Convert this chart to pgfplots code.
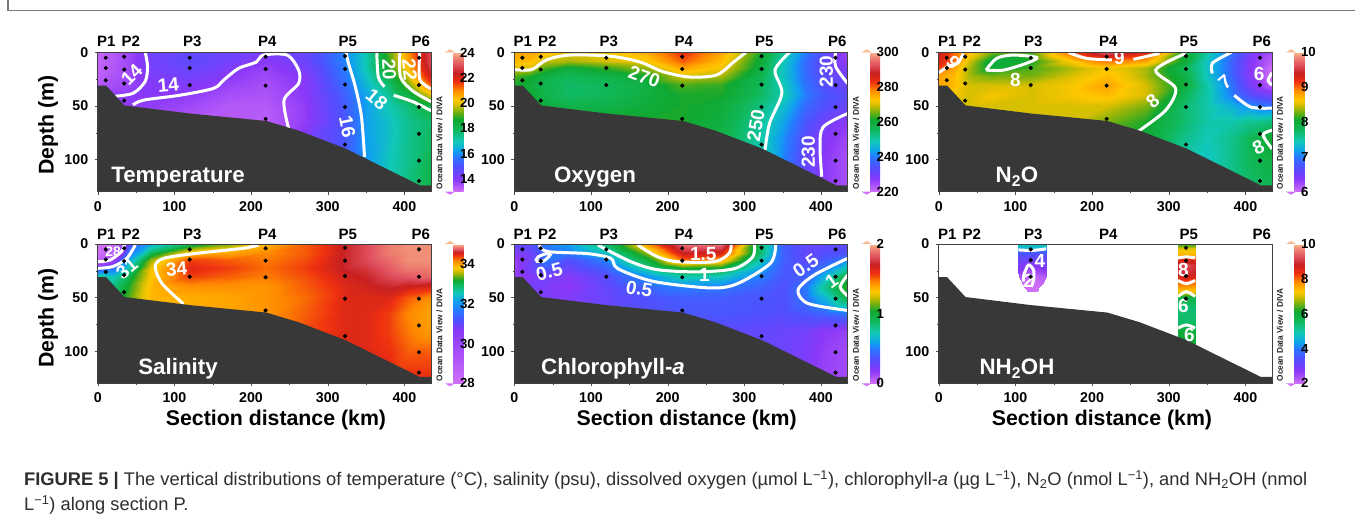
\documentclass[border=0pt]{standalone}
\usepackage{pgfplots}
\pgfplotsset{compat=1.18}
\usepackage{fontspec}
\setmainfont{Liberation Sans}
\pgfplotsset{
colormap={odv}{rgb255(0pt)=(208,112,248) rgb255(9pt)=(138,56,248) rgb255(18pt)=(80,80,255) rgb255(25pt)=(40,120,255) rgb255(29pt)=(16,160,240) rgb255(36pt)=(16,200,184) rgb255(45pt)=(16,184,88) rgb255(52pt)=(16,168,48) rgb255(57pt)=(112,176,16) rgb255(63pt)=(224,192,0) rgb255(66pt)=(255,200,0) rgb255(73pt)=(255,136,0) rgb255(79pt)=(238,48,16) rgb255(85pt)=(200,32,32) rgb255(91pt)=(224,80,96) rgb255(96pt)=(238,128,112) rgb255(100pt)=(248,184,144)},
colormap={odvsal}{rgb255(0pt)=(208,112,248) rgb255(38pt)=(138,56,248) rgb255(45pt)=(80,80,255) rgb255(52pt)=(40,120,255) rgb255(59pt)=(16,160,240) rgb255(65pt)=(16,200,184) rgb255(71pt)=(16,184,88) rgb255(74pt)=(16,168,48) rgb255(77pt)=(112,176,16) rgb255(81pt)=(224,192,0) rgb255(83pt)=(255,200,0) rgb255(88pt)=(255,136,0) rgb255(92pt)=(238,48,16) rgb255(94pt)=(200,32,32) rgb255(96pt)=(224,80,96) rgb255(98pt)=(238,128,112) rgb255(100pt)=(248,184,144)},
sec/.style={scale only axis,width=333.3pt,height=139.3pt,xmin=0,xmax=434.7,ymin=0,ymax=130,y dir=reverse,axis on top,
 xtick={0,100,200,300,400},minor x tick num=1,ytick={0,50,100},minor y tick num=1,
 xtick pos=lower,ytick pos=left,xticklabel pos=lower,tick align=outside,major tick length=3pt,minor tick length=1.5pt,
 tick style={color=black!70},axis line style={color=black!75,line width=0.7pt},
 tick label style={font=\bfseries\fontsize{14.2}{15}\selectfont,/pgf/number format/assume math mode=true},
 xticklabel style={yshift=-3pt},yticklabel style={xshift=-3pt},anchor=south west},
cb/.style={colorbar,colorbar style={at={(parent axis.north east)},anchor=north west,xshift=14pt,width=10pt,height=139.3pt,y dir=normal,
 ytick={#1},major tick length=0pt,minor tick length=0pt,axis line style={draw=none},ytick pos=right,yticklabel pos=right,
 yticklabel style={font=\bfseries\fontsize{13.2}{15}\selectfont,/pgf/number format/assume math mode=true,xshift=-7pt}}},
cl/.style={white,line width=3pt,smooth,no marks,forget plot}
}
\newcommand{\seabed}{\addplot[fill=black!78,draw=none,forget plot] coordinates {(0,31)(11,31)(35,49.5)(120,57)(220,64)(262,73)(323,89.7)(420,124)(434.7,124)(434.7,130)(0,130)} -- cycle;}
\newcommand{\stations}{\addplot[only marks,mark=*,mark size=1.9pt,black,forget plot] coordinates {(10.5,5)(10.5,14.5)(10.5,26)(34.5,4)(34.5,16)(34.5,29)(34.5,45)(120,5)(120,14.5)(120,30.5)(219,4)(219,15.5)(219,31)(219,62)(322.5,3.5)(322.5,15.5)(322.5,30)(322.5,51)(322.5,86)(419,5)(419,30.5)(419,51)(419,76)(419,101)(419,120)};}
\newcommand{\lab}[4]{\node[text=white,inner sep=0pt,rotate=#4,font=\bfseries\fontsize{19}{20}\selectfont] at (axis cs:#1,#2) {#3};}
\newcommand{\tops}[2]{\begin{scope}[font=\bfseries\fontsize{15}{17}\selectfont]
\node at (#1+8.5,#2) {P1};\node at (#1+33,#2) {P2};\node at (#1+94.5,#2) {P3};\node at (#1+169.5,#2) {P4};\node at (#1+250,#2) {P5};\node at (#1+323,#2) {P6};\end{scope}}
\newcommand{\odvt}[2]{\node[rotate=90,font=\fontsize{8.3}{9}\selectfont\bfseries,text=black!85] at (#1,#2) {Ocean Data View / DIVA};}
\newcommand{\tips}[3]{\fill[fill={rgb,255:red,248;green,184;blue,144}] (#1,#2) -- (#1+5,#2+3) -- (#1+10,#2) -- cycle;
\fill[fill={rgb,255:red,208;green,112;blue,248}] (#1,#3) -- (#1+5,#3-3) -- (#1+10,#3) -- cycle;}
\newcommand{\ptitle}[3]{\node[text=white,font=\bfseries\fontsize{22.3}{24}\selectfont] at (#1,#2) {#3};}
\begin{document}
\begin{tikzpicture}[x=1pt,y=1pt]
\useasboundingbox (0,0) rectangle (1355,523);
\fill[white] (0,0) rectangle (1355,523);
\draw[black!52,line width=1.6pt] (8,523) -- (8,512.5) -- (1355,512.5);

% ---------- Temperature
\begin{axis}[sec,at={(97.7pt,331.3pt)},colormap name=odv,point meta min=13,point meta max=24,cb={14,16,18,20,22,24}]
\addplot[surf,shader=interp,mesh/cols=13,point meta=explicit,forget plot] coordinates {
(0,0)[13.2](20,0)[13.4](40,0)[13.7](70,0)[14.4](120,0)[14.7](170,0)[14.5](220,0)[14.2](270,0)[14.6](322,0)[15.9](350,0)[17.0](380,0)[19.1](405,0)[20.9](434.7,0)[23.0]
(0,8)[13.2](20,8)[13.4](40,8)[13.7](70,8)[14.4](120,8)[14.7](170,8)[14.4](220,8)[14.0](270,8)[14.5](322,8)[15.9](350,8)[17.0](380,8)[19.0](405,8)[20.7](434.7,8)[23.0]
(0,15)[13.2](20,15)[13.4](40,15)[13.7](70,15)[14.3](120,15)[14.6](170,15)[14.2](220,15)[13.8](270,15)[14.3](322,15)[15.8](350,15)[17.0](380,15)[18.8](405,15)[20.4](434.7,15)[22.8]
(0,22)[13.3](20,22)[13.5](40,22)[13.7](70,22)[14.2](120,22)[14.4](170,22)[14.0](220,22)[13.7](270,22)[14.1](322,22)[15.7](350,22)[16.8](380,22)[18.3](405,22)[19.9](434.7,22)[22.3]
(0,30)[13.4](20,30)[13.6](40,30)[13.7](70,30)[14.1](120,30)[14.1](170,30)[13.8](220,30)[13.6](270,30)[14.0](322,30)[15.5](350,30)[16.6](380,30)[17.7](405,30)[19.2](434.7,30)[21.4]
(0,40)[13.6](20,40)[13.9](40,40)[14.0](70,40)[14.0](120,40)[13.9](170,40)[13.6](220,40)[13.5](270,40)[14.0](322,40)[15.3](350,40)[16.3](380,40)[17.3](405,40)[18.3](434.7,40)[20.0]
(0,50)[13.7](20,50)[13.8](40,50)[13.9](70,50)[13.9](120,50)[13.7](170,50)[13.4](220,50)[13.4](270,50)[13.9](322,50)[15.2](350,50)[16.2](380,50)[17.0](405,50)[17.6](434.7,50)[18.3]
(0,65)[14.0](20,65)[14.0](40,65)[13.8](70,65)[13.6](120,65)[13.4](170,65)[13.4](220,65)[13.3](270,65)[13.9](322,65)[15.1](350,65)[16.2](380,65)[16.8](405,65)[17.4](434.7,65)[17.8]
(0,80)[14.0](20,80)[14.0](40,80)[13.8](70,80)[13.6](120,80)[13.4](170,80)[13.4](220,80)[13.4](270,80)[14.2](322,80)[15.1](350,80)[16.2](380,80)[16.8](405,80)[17.4](434.7,80)[17.9]
(0,100)[14.2](20,100)[14.2](40,100)[14.0](70,100)[13.8](120,100)[13.6](170,100)[13.6](220,100)[13.7](270,100)[14.5](322,100)[15.2](350,100)[16.1](380,100)[16.9](405,100)[17.4](434.7,100)[18.1]
(0,130)[14.4](20,130)[14.4](40,130)[14.2](70,130)[14.0](120,130)[13.8](170,130)[13.8](220,130)[14.0](270,130)[14.8](322,130)[15.4](350,130)[16.2](380,130)[17.0](405,130)[17.6](434.7,130)[18.2]
};
\addplot[cl] coordinates {(62,0)(65,13)(62,27)(46.5,38)(22.6,41)(15,42)};
\addplot[cl] coordinates {(46,49)(60,44.5)(107,40)(151,33.6)(164,26)(183.5,15)(207,9)(216,2.5)(247,2.5)(262,16.5)(262,29)(243,44.5)(249,71)};
\addplot[cl] coordinates {(324,0)(327,10)(336,32)(344,60)(348,97.5)};
\addplot[cl] coordinates {(364,0)(366,23)(374,32)};
\addplot[cl] coordinates {(386,40)(411,46)(435,54.5)};
\addplot[cl] coordinates {(394,0)(395,23)(411,36)(435,46)};
\addplot[cl] coordinates {(420,0)(420,25)(434.7,34)};
\seabed\stations
\lab{44.3}{21}{14}{45}\lab{92}{30.5}{14}{5}\lab{325.6}{69.5}{16}{-78}\lab{364}{43.6}{18}{-40}\lab{380}{16}{20}{-88}\lab{407}{16}{22}{-85}
\end{axis}

% ---------- Oxygen
\begin{axis}[sec,at={(514.3pt,331.3pt)},colormap name=odv,point meta min=220,point meta max=300,cb={220,240,260,280,300}]
\addplot[surf,shader=interp,mesh/cols=13,point meta=explicit,forget plot] coordinates {
(0,0)[276](20,0)[276](40,0)[274](70,0)[271](120,0)[272](170,0)[275](220,0)[284](270,0)[276](322,0)[262](350,0)[251](380,0)[240](405,0)[233](434.7,0)[225]
(0,8)[274](20,8)[274](40,8)[269](70,8)[268](120,8)[270](170,8)[272](220,8)[281](270,8)[274](322,8)[260](350,8)[249](380,8)[238](405,8)[232](434.7,8)[226]
(0,15)[270](20,15)[270](40,15)[264](70,15)[260](120,15)[263](170,15)[267](220,15)[276](270,15)[272](322,15)[259](350,15)[248](380,15)[238](405,15)[232](434.7,15)[228]
(0,22)[264](20,22)[262](40,22)[259](70,22)[256](120,22)[258](170,22)[261](220,22)[270](270,22)[268](322,22)[257](350,22)[248](380,22)[238](405,22)[233](434.7,22)[230]
(0,30)[262](20,30)[260](40,30)[257](70,30)[255](120,30)[256](170,30)[259](220,30)[264](270,30)[263](322,30)[256](350,30)[249](380,30)[239](405,30)[234](434.7,30)[230.5]
(0,40)[262](20,40)[261](40,40)[258](70,40)[255](120,40)[256](170,40)[259](220,40)[262](270,40)[262](322,40)[255](350,40)[250](380,40)[240](405,40)[235](434.7,40)[233]
(0,50)[262](20,50)[262](40,50)[260](70,50)[258](120,50)[258](170,50)[260](220,50)[262](270,50)[260](322,50)[253](350,50)[247](380,50)[238](405,50)[234](434.7,50)[231]
(0,65)[262](20,65)[262](40,65)[262](70,65)[262](120,65)[262](170,65)[262](220,65)[262](270,65)[259](322,65)[251](350,65)[244](380,65)[235](405,65)[230](434.7,65)[227]
(0,80)[262](20,80)[262](40,80)[262](70,80)[262](120,80)[262](170,80)[262](220,80)[262](270,80)[258](322,80)[250](350,80)[242](380,80)[233](405,80)[228](434.7,80)[225]
(0,100)[250](20,100)[250](40,100)[250](70,100)[250](120,100)[250](170,100)[250](220,100)[255](270,100)[255](322,100)[250](350,100)[241](380,100)[232](405,100)[227](434.7,100)[224]
(0,130)[250](20,130)[250](40,130)[250](70,130)[250](120,130)[250](170,130)[250](220,130)[255](270,130)[255](322,130)[250](350,130)[241](380,130)[232](405,130)[227](434.7,130)[224]
};
\addplot[cl] coordinates {(0,16)(22.6,16)(42,7)(72,2.5)(125,3.5)(164,9)(194,18)(229,23)(264,21)(286,9)(302,0)};
\addplot[cl] coordinates {(359,0)(340,16.5)(349,38)(333,66)(327,91)};
\addplot[cl] coordinates {(419,0)(419,13)(434.7,29)};
\addplot[cl] coordinates {(434.7,57)(403,69.5)(398.7,88)(401,116)};
\seabed\stations
\lab{169.6}{22.7}{270}{-20}\lab{315}{68}{250}{80}\lab{407}{18}{230}{90}\lab{383.5}{93}{230}{90}
\end{axis}

% ---------- N2O
\begin{axis}[sec,at={(938.7pt,331.3pt)},colormap name=odv,point meta min=6,point meta max=10,cb={6,7,8,9,10}]
\addplot[surf,shader=interp,mesh/cols=13,point meta=explicit,forget plot] coordinates {
(0,0)[9.4](20,0)[9.0](40,0)[8.7](70,0)[8.3](120,0)[8.2](170,0)[9.0](220,0)[9.7](270,0)[9.3](322,0)[8.0](350,0)[7.5](380,0)[7.0](405,0)[6.5](434.7,0)[6.2]
(0,8)[9.3](20,8)[9.0](40,8)[8.5](70,8)[7.95](120,8)[8.1](170,8)[8.6](220,8)[9.0](270,8)[8.8](322,8)[8.0](350,8)[7.4](380,8)[6.9](405,8)[6.4](434.7,8)[6.1]
(0,15)[9.1](20,15)[8.8](40,15)[8.4](70,15)[8.0](120,15)[8.2](170,15)[8.4](220,15)[8.6](270,15)[8.4](322,15)[7.8](350,15)[7.4](380,15)[6.9](405,15)[6.4](434.7,15)[6.0]
(0,22)[8.8](20,22)[8.7](40,22)[8.4](70,22)[8.3](120,22)[8.3](170,22)[8.5](220,22)[8.7](270,22)[8.4](322,22)[7.9](350,22)[7.4](380,22)[6.9](405,22)[6.4](434.7,22)[5.9]
(0,30)[8.8](20,30)[8.7](40,30)[8.5](70,30)[8.5](120,30)[8.5](170,30)[8.6](220,30)[8.8](270,30)[8.5](322,30)[7.95](350,30)[7.5](380,30)[7.0](405,30)[6.5](434.7,30)[6.1]
(0,40)[8.7](20,40)[8.6](40,40)[8.5](70,40)[8.6](120,40)[8.5](170,40)[8.6](220,40)[8.7](270,40)[8.5](322,40)[7.8](350,40)[7.5](380,40)[7.05](405,40)[6.7](434.7,40)[6.5]
(0,50)[8.6](20,50)[8.5](40,50)[8.5](70,50)[8.5](120,50)[8.5](170,50)[8.5](220,50)[8.5](270,50)[8.3](322,50)[7.7](350,50)[7.5](380,50)[7.3](405,50)[7.1](434.7,50)[6.95]
(0,65)[8.5](20,65)[8.5](40,65)[8.5](70,65)[8.5](120,65)[8.5](170,65)[8.5](220,65)[8.3](270,65)[8.1](322,65)[7.7](350,65)[7.5](380,65)[7.5](405,65)[7.6](434.7,65)[7.7]
(0,80)[8.2](20,80)[8.2](40,80)[8.2](70,80)[8.2](120,80)[8.2](170,80)[8.2](220,80)[8.2](270,80)[8.0](322,80)[7.6](350,80)[7.45](380,80)[7.6](405,80)[7.8](434.7,80)[8.1]
(0,100)[7.9](20,100)[7.9](40,100)[7.9](70,100)[7.9](120,100)[7.9](170,100)[7.9](220,100)[7.9](270,100)[7.8](322,100)[7.5](350,100)[7.4](380,100)[7.6](405,100)[7.8](434.7,100)[7.95]
(0,130)[7.7](20,130)[7.7](40,130)[7.7](70,130)[7.7](120,130)[7.7](170,130)[7.7](220,130)[7.7](270,130)[7.6](322,130)[7.5](350,130)[7.5](380,130)[7.6](405,130)[7.7](434.7,130)[7.8]
};
\addplot[cl] coordinates {(0,19)(12.6,13)(25,10)(32,1)};
\addplot[cl] coordinates {(61.7,16.5)(75.6,5.6)(97,2.5)(128,4.7)(115,10)(84.7,16.5)(61.7,16.5)};
\addplot[cl] coordinates {(169,0)(193,5.6)(226,7)};
\addplot[cl] coordinates {(254,6.5)(288,1)};
\addplot[cl] coordinates {(322,1)(283,16.5)(309,33.6)(296,54)(259.5,74)};
\addplot[cl] coordinates {(381.5,0)(357,10)(357,19.6)};
\addplot[cl] coordinates {(385.5,40)(407,51)(434.7,52)};
\addplot[cl] coordinates {(434.7,19)(429.6,26)(434.7,30.5)};
\addplot[cl] coordinates {(434.7,72.6)(423,77)(434.7,90)};
\seabed\stations
\lab{19}{9.7}{9}{-45}\lab{100}{26}{8}{0}\lab{235.6}{5.6}{9}{0}\lab{279}{45.5}{8}{40}\lab{373.5}{27.4}{7}{40}\lab{418}{20}{6}{0}\lab{417}{88.8}{8}{25}
\end{axis}

% ---------- Salinity
\begin{axis}[sec,at={(97.7pt,139.7pt)},colormap name=odvsal,point meta min=28,point meta max=35,cb={28,30,32,34}]
\addplot[surf,shader=interp,mesh/cols=13,point meta=explicit,forget plot] coordinates {
(0,0)[27.8](20,0)[28.3](40,0)[31.0](70,0)[32.3](120,0)[33.0](170,0)[33.4](220,0)[33.9](270,0)[34.3](322,0)[34.6](350,0)[34.7](380,0)[34.85](405,0)[34.9](434.7,0)[34.9]
(0,8)[27.9](20,8)[29.0](40,8)[31.6](70,8)[33.0](120,8)[33.9](170,8)[34.0](220,8)[34.15](270,8)[34.3](322,8)[34.6](350,8)[34.7](380,8)[34.85](405,8)[34.9](434.7,8)[34.9]
(0,15)[28.6](20,15)[30.2](40,15)[32.2](70,15)[33.5](120,15)[34.4](170,15)[34.3](220,15)[34.2](270,15)[34.35](322,15)[34.6](350,15)[34.7](380,15)[34.8](405,15)[34.9](434.7,15)[34.9]
(0,22)[31.0](20,22)[31.5](40,22)[32.6](70,22)[33.75](120,22)[34.5](170,22)[34.4](220,22)[34.25](270,22)[34.4](322,22)[34.6](350,22)[34.65](380,22)[34.75](405,22)[34.85](434.7,22)[34.85]
(0,30)[32.7](20,30)[32.5](40,30)[33.0](70,30)[33.8](120,30)[34.4](170,30)[34.3](220,30)[34.2](270,30)[34.35](322,30)[34.55](350,30)[34.6](380,30)[34.7](405,30)[34.75](434.7,30)[34.8]
(0,40)[33.0](20,40)[32.8](40,40)[33.2](70,40)[33.9](120,40)[34.1](170,40)[34.1](220,40)[34.1](270,40)[34.3](322,40)[34.5](350,40)[34.55](380,40)[34.6](405,40)[34.55](434.7,40)[34.5]
(0,50)[33.2](20,50)[33.0](40,50)[33.3](70,50)[33.9](120,50)[33.95](170,50)[34.0](220,50)[34.1](270,50)[34.25](322,50)[34.5](350,50)[34.5](380,50)[34.5](405,50)[34.3](434.7,50)[34.1]
(0,65)[33.3](20,65)[33.3](40,65)[33.4](70,65)[33.9](120,65)[34.0](170,65)[34.0](220,65)[34.1](270,65)[34.3](322,65)[34.5](350,65)[34.5](380,65)[34.4](405,65)[34.15](434.7,65)[34.0]
(0,80)[33.3](20,80)[33.3](40,80)[33.4](70,80)[33.9](120,80)[34.0](170,80)[34.0](220,80)[34.1](270,80)[34.35](322,80)[34.5](350,80)[34.5](380,80)[34.4](405,80)[34.2](434.7,80)[34.05]
(0,100)[33.3](20,100)[33.3](40,100)[33.4](70,100)[33.9](120,100)[34.0](170,100)[34.0](220,100)[34.1](270,100)[34.4](322,100)[34.5](350,100)[34.5](380,100)[34.45](405,100)[34.3](434.7,100)[34.3]
(0,130)[33.3](20,130)[33.3](40,130)[33.4](70,130)[33.9](120,130)[34.0](170,130)[34.0](220,130)[34.1](270,130)[34.4](322,130)[34.5](350,130)[34.5](380,130)[34.5](405,130)[34.5](434.7,130)[34.5]
};
\addplot[cl] coordinates {(0,16.5)(16,15)(31,7)(35,0)};
\addplot[cl] coordinates {(0,22.7)(20,21)(38,13.4)(49,1)};
\addplot[cl] coordinates {(209.6,1)(190,4)(129,8.7)(86,13.4)(75,21)(84,37)(112,56)};
\seabed\stations
\node[text=white,inner sep=0pt,font=\bfseries\fontsize{14}{15}\selectfont] at (axis cs:20,7) {28};
\lab{38}{23}{31}{40}\lab{103}{23}{34}{5}
\end{axis}

% ---------- Chlorophyll-a
\begin{axis}[sec,at={(514.3pt,139.7pt)},colormap name=odv,point meta min=0,point meta max=2,cb={0,1,2}]
\addplot[surf,shader=interp,mesh/cols=13,point meta=explicit,forget plot] coordinates {
(0,0)[.3](20,0)[.35](40,0)[.5](70,0)[.58](120,0)[.85](170,0)[1.4](220,0)[1.9](270,0)[1.9](322,0)[.85](350,0)[.4](380,0)[.3](405,0)[.3](434.7,0)[.3]
(0,8)[.2](20,8)[.25](40,8)[.45](70,8)[.5](120,8)[.68](170,8)[1.15](220,8)[1.7](270,8)[1.65](322,8)[.85](350,8)[.42](380,8)[.3](405,8)[.35](434.7,8)[.38]
(0,15)[.15](20,15)[.25](40,15)[.5](70,15)[.35](120,15)[.52](170,15)[.95](220,15)[1.5](270,15)[1.4](322,15)[.72](350,15)[.42](380,15)[.32](405,15)[.4](434.7,15)[.55]
(0,22)[.14](20,22)[.25](40,22)[.4](70,22)[.28](120,22)[.42](170,22)[.75](220,22)[1.05](270,22)[1.02](322,22)[.6](350,22)[.4](380,22)[.38](405,22)[.5](434.7,22)[.75]
(0,30)[.15](20,30)[.2](40,30)[.25](70,30)[.2](120,30)[.33](170,30)[.55](220,30)[.75](270,30)[.72](322,30)[.52](350,30)[.38](380,30)[.42](405,30)[.65](434.7,30)[1.0]
(0,40)[.2](20,40)[.25](40,40)[.22](70,40)[.17](120,40)[.3](170,40)[.42](220,40)[.52](270,40)[.5](322,40)[.42](350,40)[.36](380,40)[.5](405,40)[.8](434.7,40)[1.1]
(0,50)[.3](20,50)[.25](40,50)[.22](70,50)[.2](120,50)[.28](170,50)[.36](220,50)[.4](270,50)[.4](322,50)[.38](350,50)[.36](380,50)[.48](405,50)[.65](434.7,50)[.95]
(0,65)[.3](20,65)[.3](40,65)[.25](70,65)[.25](120,65)[.3](170,65)[.35](220,65)[.38](270,65)[.38](322,65)[.36](350,65)[.34](380,65)[.38](405,65)[.42](434.7,65)[.47]
(0,80)[.3](20,80)[.3](40,80)[.3](70,80)[.3](120,80)[.33](170,80)[.33](220,80)[.33](270,80)[.33](322,80)[.3](350,80)[.28](380,80)[.25](405,80)[.18](434.7,80)[.15]
(0,100)[.3](20,100)[.3](40,100)[.3](70,100)[.3](120,100)[.33](170,100)[.33](220,100)[.33](270,100)[.32](322,100)[.3](350,100)[.27](380,100)[.22](405,100)[.15](434.7,100)[.12]
(0,130)[.3](20,130)[.3](40,130)[.3](70,130)[.3](120,130)[.3](170,130)[.3](220,130)[.3](270,130)[.3](322,130)[.28](350,130)[.25](380,130)[.2](405,130)[.15](434.7,130)[.12]
};
\addplot[cl] coordinates {(161,1)(187,12)(213,16.5)(261,16.5)(280,9)(283,0)};
\addplot[cl] coordinates {(109,1)(152,16.5)(187,24)(239,26)(287,23)(311,12)(313,0)};
\addplot[cl] coordinates {(32.6,1)(43,7)(96,9)(126,13.4)(135,23)(182,35)(256,41)(291,37)(334,18)(341,0)};
\addplot[cl] coordinates {(28,16)(38,16)(47,10)(42,9)(31,12)(28,16)};
\addplot[cl] coordinates {(434.7,13.4)(391,29)(370,43)(383,55.5)(434.7,62)};
\addplot[cl] coordinates {(434.7,29)(425,40)(434.7,48.5)};
\seabed\stations
\lab{45.6}{26}{0.5}{15}\lab{163}{42}{0.5}{-10}\lab{246.5}{9.7}{1.5}{0}\lab{248}{29}{1}{0}\lab{380}{20}{0.5}{35}\lab{414}{35}{1}{35}
\end{axis}

% ---------- NH2OH
\begin{axis}[sec,at={(938.7pt,139.7pt)},colormap name=odv,point meta min=2,point meta max=10,cb={2,4,6,8,10}]
\addplot[surf,shader=interp,mesh/cols=3,point meta=explicit,forget plot] coordinates {
(104,0)[4.8](122,0)[4.8](140,0)[4.8]
(104,3.5)[4.6](122,3.5)[4.6](140,3.5)[4.6]
(104,7)[3.6](122,7)[3.6](140,7)[3.6]
(104,15)[3.1](122,15)[3.0](140,15)[3.2]
(104,25)[2.7](122,25)[2.4](140,25)[2.7]
(105,30)[2.4](122,30)[2.1](140,30)[2.3]
(108,36.8)[2.1](122,36.8)[2.0](136.5,36.8)[2.1]
(112.6,41.4)[2](122,42)[2](129.6,41.4)[2]
(116,44.5)[2](122,44.5)[2](128,44.5)[2]
};
\addplot[surf,shader=interp,mesh/cols=3,point meta=explicit,forget plot] coordinates {
(312,0)[6.2](323,0)[6.2](334.5,0)[6.2]
(312,4)[7](323,4)[7](334.5,4)[7]
(312,11)[7.6](323,11)[7.6](334.5,11)[7.6]
(312,14)[8.4](323,14)[8.4](334.5,14)[8.4]
(312,20)[9](323,20)[9.2](334.5,20)[9]
(312,28)[8.8](323,28)[9](334.5,28)[8.8]
(312,36)[8](323,36)[8](334.5,36)[8]
(312,44)[7.3](323,44)[7.3](334.5,44)[7.3]
(312,50)[5.8](323,50)[5.8](334.5,50)[5.8]
(312,60)[5.4](323,60)[5.4](334.5,60)[5.4]
(312,74)[5.5](323,74)[5.5](334.5,74)[5.5]
(312,80)[6](323,80)[6](334.5,80)[6]
(312,95)[6.2](323,95)[6.2](334.5,95)[6.2]
};
\addplot[cl] coordinates {(104,5.5)(122,6)(140,4.5)};
\addplot[cl] coordinates {(110.4,35)(111,29)(117,19.6)(123.5,24)(124,32)(121,40)};
\addplot[cl] coordinates {(312,13)(323,12)(334.5,13)};
\addplot[cl] coordinates {(312,34)(323,37)(334.5,34)};
\addplot[cl] coordinates {(312,49)(323,44.5)(334.5,49)};
\addplot[cl] coordinates {(312,78.5)(323,75.5)(334.5,78.5)};
\seabed
\addplot[only marks,mark=*,mark size=1.9pt,black,forget plot] coordinates {(120,5)(120,15)(120,30.5)(322.5,3.5)(322.5,15.5)(322.5,30)(322.5,51)};
\lab{132}{15.6}{4}{0}\lab{117}{34}{2}{0}\lab{319}{24}{8}{0}\lab{319}{58}{6}{0}\lab{327}{85}{6}{0}
\end{axis}

% ---------- decoration text
\tops{97.7}{481.5}\tops{514.3}{481.5}\tops{938.7}{481.5}
\tops{97.7}{289}\tops{514.3}{289}\tops{938.7}{289}
\tips{445}{470.7}{331.3}\tips{861.7}{470.7}{331.3}\tips{1286}{470.7}{331.3}
\tips{445}{279}{139.7}\tips{861.7}{279}{139.7}\tips{1286}{279}{139.7}
\odvt{439.5}{380}\odvt{856}{380}\odvt{1280}{380}
\odvt{439.5}{188}\odvt{856}{188}\odvt{1280}{188}
\ptitle{178}{346}{Temperature}\ptitle{595}{346}{Oxygen}\ptitle{1017}{346}{N\textsubscript{2}O}
\ptitle{178}{154}{Salinity}\ptitle{613}{154}{Chlorophyll-\textit{a}}\ptitle{1017}{154}{NH\textsubscript{2}OH}
\begin{scope}[font=\bfseries\fontsize{21.3}{23}\selectfont]
\node[rotate=90] at (48,398) {Depth (m)};
\node[rotate=90] at (48,205) {Depth (m)};
\node at (276,103) {Section distance (km)};
\node at (686.7,103) {Section distance (km)};
\node at (1102,103) {Section distance (km)};
\end{scope}
\node[anchor=west,inner sep=0pt,text=black!82,font=\fontsize{18.3}{20}\selectfont] at (24,43) {\textbf{FIGURE 5 |} The vertical distributions of temperature (°C), salinity (psu), dissolved oxygen (µmol L\textsuperscript{−1}), chlorophyll-\textit{a} (µg L\textsuperscript{−1}), N\textsubscript{2}O (nmol L\textsuperscript{−1}), and NH\textsubscript{2}OH (nmol};
\node[anchor=west,inner sep=0pt,text=black!82,font=\fontsize{18.3}{20}\selectfont] at (24,18) {L\textsuperscript{−1}) along section P.};
\end{tikzpicture}
\end{document}
